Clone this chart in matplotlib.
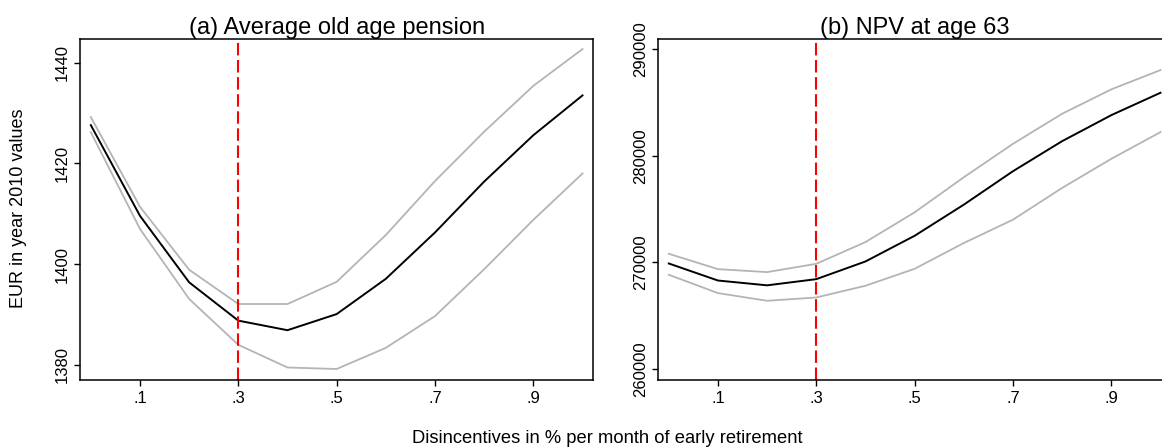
import matplotlib
matplotlib.use("Agg")
import matplotlib.pyplot as plt

plt.rcParams['font.family'] = ['Liberation Sans', 'DejaVu Sans']

# Disincentive rates (% per month of early retirement)
rates = [0.0, 0.1, 0.2, 0.3, 0.4, 0.5, 0.6, 0.7, 0.8, 0.9, 1.0]
status_quo = 0.3

# (a) Average old age pension, EUR in 2010 values
pension_mean = [1427.6, 1409.6, 1396.4, 1388.8, 1386.9, 1390.1, 1397.1, 1406.3, 1416.4, 1425.6, 1433.5]
pension_upper = [1429.2, 1411.4, 1398.9, 1392.1, 1392.1, 1396.5, 1405.8, 1416.5, 1426.3, 1435.4, 1442.7]
pension_lower = [1426.2, 1407.0, 1393.1, 1384.0, 1379.5, 1379.2, 1383.4, 1389.7, 1399.0, 1408.8, 1418.0]

# (b) Net present value at age 63
npv_mean = [269900, 268300, 267850, 268430, 270090, 272500, 275420, 278560, 281380, 283820, 285920]
npv_upper = [270810, 269370, 269090, 269870, 271910, 274700, 277990, 281130, 283950, 286240, 288050]
npv_lower = [268840, 267120, 266400, 266710, 267810, 269400, 271820, 274010, 276990, 279720, 282230]

xticks = [0.1, 0.3, 0.5, 0.7, 0.9]
xtick_labels = ['.1', '.3', '.5', '.7', '.9']
pension_ticks = [1380, 1400, 1420, 1440]
npv_ticks = [260000, 270000, 280000, 290000]

GREY = '#b4b4b4'
fig = plt.figure(figsize=(11.62, 4.47), dpi=100)
ax1 = fig.add_axes([0.0691, 0.1506, 0.4415, 0.7615])
ax2 = fig.add_axes([0.5665, 0.1506, 0.4415, 0.7615])

panels = [
    (ax1, pension_mean, pension_upper, pension_lower, pension_ticks,
     (1377.08, 1444.64), '(a) Average old age pension'),
    (ax2, npv_mean, npv_upper, npv_lower, npv_ticks,
     (258996, 290938), '(b) NPV at age 63'),
]

for ax, mean, up, lo, yt, ylim, title in panels:
    ax.plot(rates, up, color=GREY, lw=1.3)
    ax.plot(rates, lo, color=GREY, lw=1.3)
    ax.plot(rates, mean, color='black', lw=1.4)
    ax.axvline(status_quo, color='#ff0000', lw=1.5, ls=(0, (6, 2.2)))
    ax.set_xlim(-0.0214, 1.022)
    ax.set_ylim(*ylim)
    ax.set_xticks(xticks)
    ax.set_xticklabels(xtick_labels)
    ax.set_yticks(yt)
    ax.set_yticklabels([str(v) for v in yt], rotation=90, va='center')
    ax.tick_params(direction='out', length=4.5, width=1.0, labelsize=12, colors='black')
    ax.tick_params(axis='y', pad=3)
    ax.tick_params(axis='x', pad=4)
    for s in ax.spines.values():
        s.set_linewidth(1.1)
        s.set_color('black')
    ax.set_title(title, fontsize=17, pad=2)

fig.text(0.0158, 0.5335, 'EUR in year 2010 values', rotation=90,
         ha='center', va='center', fontsize=13)
fig.text(0.523, 0.02, 'Disincentives in % per month of early retirement',
         ha='center', va='center', fontsize=13.2)

fig.savefig('out.png', dpi=100)
